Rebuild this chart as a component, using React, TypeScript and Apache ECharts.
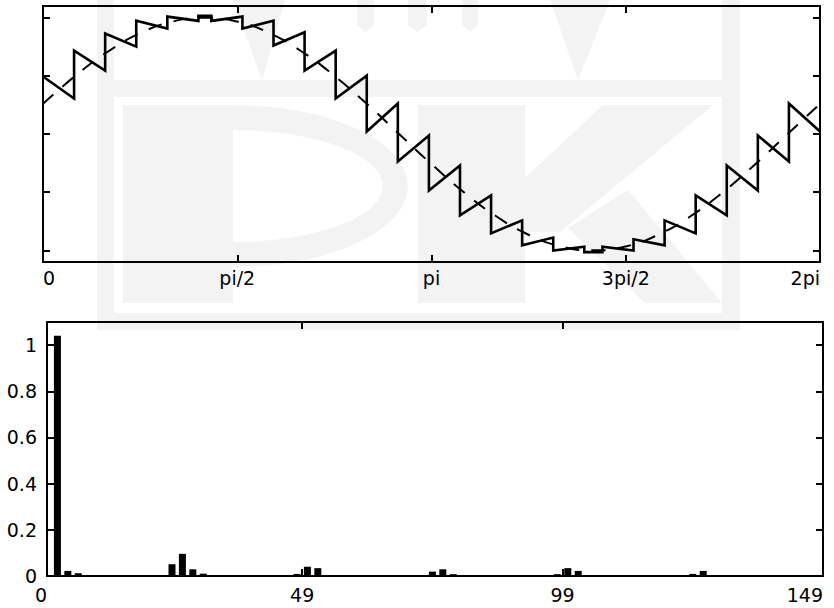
import { useEffect, useRef } from 'react';
import * as echarts from 'echarts';

// Modulated output: one linear piece per switching interval, angle in degrees
const stepEdges = [0, 14.4, 28.8, 43.2, 57.6, 72, 78, 92.4, 106.8, 121.2, 135.6, 150, 164.4, 178.8, 193.2, 207.6, 222, 236.4, 250.8, 259.2, 273.6, 288, 302.4, 316.8, 331.2, 345.6, 360];
const stepStart = [0.494, 0.717, 0.863, 0.974, 1.009, 1.015, 0.972, 0.906, 0.76, 0.545, 0.305, 0.021, -0.236, -0.485, -0.7, -0.854, -0.957, -1.002, -1.015, -0.968, -0.905, -0.742, -0.528, -0.27, -0.013, 0.262];
const stepEnd = [0.305, 0.545, 0.751, 0.906, 0.972, 1.015, 1.009, 0.974, 0.875, 0.717, 0.502, 0.262, -0.013, -0.27, -0.528, -0.742, -0.89, -0.968, -1.015, -1.002, -0.957, -0.854, -0.7, -0.485, -0.236, 0.021];

// Reference waveform (dashed)
const refAngle = [0, 15, 30, 45, 60, 75, 90, 105, 120, 135, 150, 165, 180, 195, 210, 225, 240, 255, 270, 285, 300, 315, 330, 345, 360];
const refValue = [0.259, 0.5, 0.707, 0.866, 0.966, 1, 0.966, 0.866, 0.707, 0.5, 0.259, 0, -0.259, -0.5, -0.707, -0.866, -0.966, -1, -0.966, -0.866, -0.707, -0.5, -0.259, 0, 0.259];

const phaseTicks = [0, 90, 180, 270, 360];
const phaseLabels = ['0', 'pi/2', 'pi', '3pi/2', '2pi'];
const levelTicks = [-1, -0.5, 0, 0.5, 1];

// Harmonic spectrum
const harmonicIndex = [2, 4, 6, 24, 26, 28, 30, 48, 50, 52, 74, 76, 78, 98, 100, 102, 124, 126];
const harmonicAmp = [1.04, 0.022, 0.012, 0.051, 0.096, 0.029, 0.01, 0.009, 0.04, 0.034, 0.019, 0.029, 0.008, 0.008, 0.034, 0.022, 0.009, 0.022];
const indexLabels = [0, 49, 99, 149];
const ampLabels = [0, 0.2, 0.4, 0.6, 0.8, 1];

const FONT = 'DejaVu Sans';
const INK = '#000';
const MARK = '#f3f3f3';

function halfEllipse(cx: number, cy: number, rx: number, ry: number): number[][] {
  const pts: number[][] = [];
  for (let i = 0; i <= 24; i++) {
    const a = -Math.PI / 2 + (Math.PI * i) / 24;
    pts.push([cx + rx * Math.cos(a), cy + ry * Math.sin(a)]);
  }
  return pts;
}

function markRect(x: number, y: number, w: number, h: number, fill = MARK) {
  return { type: 'rect', silent: true, z: -10, shape: { x, y, width: w, height: h }, style: { fill } };
}

function markPoly(points: number[][], fill = MARK) {
  return { type: 'polygon', silent: true, z: -10, shape: { points }, style: { fill } };
}

export default function App() {
  const ref = useRef<HTMLDivElement>(null);

  useEffect(() => {
    if (!ref.current) return;
    const chart = echarts.init(ref.current, null, { renderer: 'svg' });

    const wave: number[][] = [];
    for (let i = 0; i < stepStart.length; i++) {
      wave.push([stepEdges[i], stepStart[i]]);
      wave.push([stepEdges[i + 1], stepEnd[i]]);
    }
    const reference = refAngle.map((a, i) => [a, refValue[i]]);
    const bars = harmonicIndex.map((h, i) => [h, harmonicAmp[i]]);

    const frameLine = { show: true, onZero: false, lineStyle: { color: INK, width: 2 } };
    const ticks = (values: number[]) => ({
      show: true,
      inside: true,
      length: 7,
      customValues: values,
      lineStyle: { color: INK, width: 2 },
    });
    const labelStyle = { color: INK, fontSize: 19, fontFamily: FONT };

    const option: any = {
      animation: false,
      backgroundColor: '#fff',
      graphic: [
        markRect(97, 0, 17, 330),
        markRect(722, 0, 18, 330),
        markRect(97, 80, 643, 17),
        markRect(97, 313, 643, 17),
        markRect(123, 105, 110, 198),
        markPoly(halfEllipse(233, 186, 175, 81)),
        markPoly(halfEllipse(233, 186, 150, 56), '#fff'),
        markRect(418, 105, 107, 198),
        markPoly([[603, 105], [713, 105], [560, 232], [525, 232], [525, 178]]),
        markPoly([[568, 228], [628, 190], [722, 303], [645, 303]]),
        markPoly([[357, 0], [374, 0], [374, 25], [365.5, 32], [357, 25]]),
        markPoly([[408, 0], [427, 0], [427, 25], [417.5, 32], [408, 25]]),
        markPoly([[462, 0], [478, 0], [478, 25], [470, 32], [462, 25]]),
        markPoly([[233, 0], [285, 0], [262, 80]]),
        markPoly([[550, 0], [610, 0], [578, 80]]),
      ],
      grid: [
        { left: 43, top: 6, width: 777, height: 256 },
        { left: 47, top: 322, width: 776, height: 254 },
      ],
      xAxis: [
        {
          gridIndex: 0, type: 'value', position: 'bottom', min: 0, max: 360,
          axisLine: frameLine, axisTick: ticks([90, 180, 270]), splitLine: { show: false },
          axisLabel: {
            ...labelStyle, margin: 6, customValues: phaseTicks,
            alignMinLabel: 'left', alignMaxLabel: 'right',
            formatter: (v: number) => phaseLabels[phaseTicks.indexOf(v)] ?? '',
          },
        },
        {
          gridIndex: 0, type: 'value', position: 'top', min: 0, max: 360,
          axisLine: frameLine, axisTick: ticks([90, 180, 270]), splitLine: { show: false },
          axisLabel: { show: false },
        },
        {
          gridIndex: 1, type: 'value', position: 'bottom', min: 0, max: 149,
          axisLine: frameLine, axisTick: ticks([49, 99]), splitLine: { show: false },
          axisLabel: {
            ...labelStyle, margin: 9, customValues: indexLabels,
            alignMinLabel: 'right', alignMaxLabel: 'right',
          },
        },
        {
          gridIndex: 1, type: 'value', position: 'top', min: 0, max: 149,
          axisLine: frameLine, axisTick: ticks([49, 99]), splitLine: { show: false },
          axisLabel: { show: false },
        },
      ],
      yAxis: [
        {
          gridIndex: 0, type: 'value', position: 'left', min: -1.1, max: 1.1,
          axisLine: frameLine, axisTick: ticks(levelTicks), splitLine: { show: false },
          axisLabel: { show: false },
        },
        {
          gridIndex: 0, type: 'value', position: 'right', min: -1.1, max: 1.1,
          axisLine: frameLine, axisTick: ticks(levelTicks), splitLine: { show: false },
          axisLabel: { show: false },
        },
        {
          gridIndex: 1, type: 'value', position: 'left', min: 0, max: 1.1,
          axisLine: frameLine, axisTick: ticks(ampLabels), splitLine: { show: false },
          axisLabel: { ...labelStyle, margin: 10, customValues: ampLabels },
        },
        {
          gridIndex: 1, type: 'value', position: 'right', min: 0, max: 1.1,
          axisLine: frameLine, axisTick: ticks(ampLabels), splitLine: { show: false },
          axisLabel: { show: false },
        },
      ],
      series: [
        {
          name: 'reference', type: 'line', xAxisIndex: 0, yAxisIndex: 0,
          data: reference, smooth: 0.5, showSymbol: false, symbol: 'none',
          lineStyle: { color: INK, width: 2, type: [14, 12] },
          z: 3,
        },
        {
          name: 'output', type: 'line', xAxisIndex: 0, yAxisIndex: 0,
          data: wave, showSymbol: false, symbol: 'none',
          lineStyle: { color: INK, width: 2.6, join: 'miter' },
          z: 4,
        },
        {
          name: 'spectrum', type: 'bar', xAxisIndex: 2, yAxisIndex: 2,
          data: bars, barWidth: 7, clip: true,
          itemStyle: { color: INK },
        },
      ],
    };

    chart.setOption(option);
    return () => chart.dispose();
  }, []);

  return (
    <div
      ref={ref}
      style={{ position: 'fixed', left: 0, top: 0, width: 834, height: 608, background: '#fff' }}
    />
  );
}
